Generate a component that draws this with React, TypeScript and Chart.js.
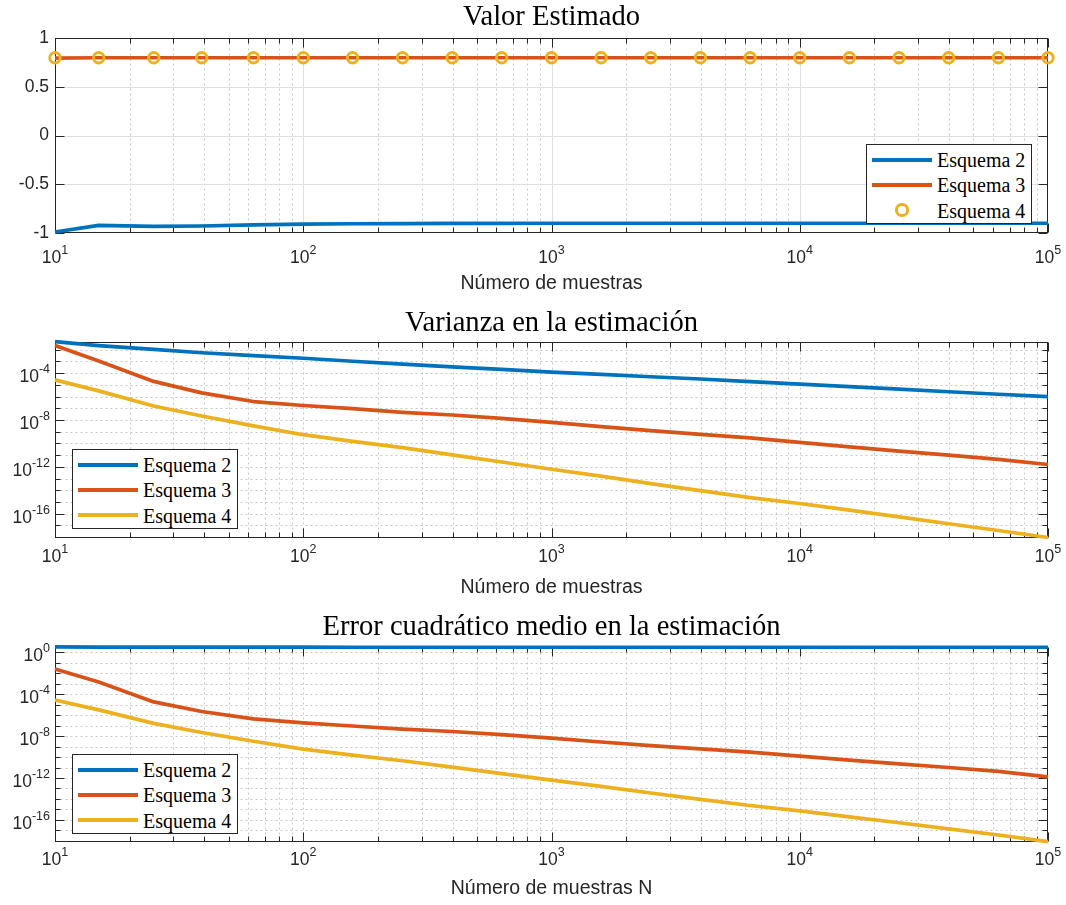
import React, { useEffect, useRef } from "react";
import { Chart, registerables } from "chart.js";

Chart.register(...registerables);

// ---------------- data ----------------
const N = [10, 15, 25, 39, 63, 100, 158, 251, 398, 630, 1000, 1584, 2511, 3981, 6309, 10000, 15848, 25118, 39810, 63095, 100000];

const seriesNames = ["Esquema 2", "Esquema 3", "Esquema 4"];
const seriesColors = ["#0072BD", "#D95319", "#EDB120"];

const valorEsquema2 = [-0.99, -0.921, -0.932, -0.928, -0.916, -0.909, -0.905, -0.903, -0.902, -0.901, -0.9, -0.9, -0.9, -0.9, -0.9, -0.9, -0.9, -0.9, -0.9, -0.9, -0.9];
const valorEsquema3 = [0.796, 0.8, 0.8, 0.8, 0.8, 0.8, 0.8, 0.8, 0.8, 0.8, 0.8, 0.8, 0.8, 0.8, 0.8, 0.8, 0.8, 0.8, 0.8, 0.8, 0.8];
const valorEsquema4 = [0.8, 0.8, 0.8, 0.8, 0.8, 0.8, 0.8, 0.8, 0.8, 0.8, 0.8, 0.8, 0.8, 0.8, 0.8, 0.8, 0.8, 0.8, 0.8, 0.8, 0.8];

const varianzaEsquema2 = [5.0e-2, 2.3e-2, 1.1e-2, 5.6e-3, 3.2e-3, 1.9e-3, 1.05e-3, 6.0e-4, 3.5e-4, 2.1e-4, 1.26e-4, 7.9e-5, 5.0e-5, 3.2e-5, 1.9e-5, 1.15e-5, 7.1e-6, 4.4e-6, 2.6e-6, 1.6e-6, 1.0e-6];
const varianzaEsquema3 = [2.3e-2, 1.1e-3, 2.0e-5, 2.1e-6, 3.8e-7, 1.74e-7, 9.5e-8, 4.6e-8, 2.7e-8, 1.38e-8, 6.3e-9, 2.7e-9, 1.23e-9, 5.9e-10, 2.95e-10, 1.23e-10, 5.1e-11, 2.2e-11, 1.0e-11, 4.3e-12, 1.6e-12];
const varianzaEsquema4 = [2.7e-5, 3.1e-6, 1.6e-7, 2.2e-8, 3.2e-9, 5.6e-10, 1.5e-10, 4.4e-11, 1.07e-11, 2.6e-12, 6.3e-13, 1.6e-13, 3.7e-14, 9.3e-15, 2.4e-15, 7.4e-16, 2.0e-16, 5.4e-17, 1.4e-17, 3.7e-18, 9.3e-19];

const mseEsquema2 = [3.2, 2.96, 3.0, 2.99, 2.95, 2.92, 2.91, 2.9, 2.9, 2.89, 2.89, 2.89, 2.89, 2.89, 2.89, 2.89, 2.89, 2.89, 2.89, 2.89, 2.89];
const mseEsquema3 = [2.5e-2, 1.4e-3, 1.8e-5, 2.2e-6, 4.3e-7, 1.8e-7, 9.0e-8, 4.6e-8, 2.7e-8, 1.38e-8, 6.3e-9, 2.7e-9, 1.23e-9, 5.9e-10, 2.95e-10, 1.23e-10, 5.1e-11, 2.2e-11, 1.0e-11, 4.3e-12, 1.3e-12];
const mseEsquema4 = [2.7e-5, 3.1e-6, 1.6e-7, 2.2e-8, 3.2e-9, 5.6e-10, 1.5e-10, 4.4e-11, 1.07e-11, 2.6e-12, 6.3e-13, 1.6e-13, 3.7e-14, 9.3e-15, 2.4e-15, 7.4e-16, 2.0e-16, 5.4e-17, 1.4e-17, 3.7e-18, 8.5e-19];

const xTicks = [10, 100, 1000, 10000, 100000];
const valorTicks = [-1, -0.5, 0, 0.5, 1];
const varianzaTicks = [1e-16, 1e-12, 1e-8, 1e-4];
const mseTicks = [1e-16, 1e-12, 1e-8, 1e-4, 1];

const titles = ["Valor Estimado", "Varianza en la estimación", "Error cuadrático medio en la estimación"];
const xTitles = ["Número de muestras", "Número de muestras", "Número de muestras N"];

// ---------------- helpers ----------------
const SANS = '"Liberation Sans", Arial, Helvetica, sans-serif';
const SERIF = '"Liberation Serif", "Times New Roman", serif';
const AX = "#262626";
const BASE_FONT = "17.5px " + SANS;
const EXP_FONT = "12.5px " + SANS;

const xMinor: number[] = [];
for (let e = 1; e < 5; e++) for (let m = 2; m < 10; m++) xMinor.push(m * Math.pow(10, e));

const matlabAxes = {
  id: "matlabAxes",
  beforeDatasetsDraw(chart: any, _args: any, opts: any) {
    const { ctx, chartArea: a } = chart;
    const xs = chart.scales.x;
    const ys = chart.scales.y;
    const L = Math.round(a.left) + 0.5;
    const R = Math.round(a.right) - 0.5;
    const T = Math.round(a.top) + 0.5;
    const B = Math.round(a.bottom) - 0.5;
    ctx.save();
    ctx.lineWidth = 1;
    const setStyle = (dotted: boolean) => {
      if (dotted) {
        ctx.strokeStyle = "#c8c8c8";
        ctx.setLineDash([2, 3]);
      } else {
        ctx.strokeStyle = "#dfdfdf";
        ctx.setLineDash([]);
      }
    };
    const vline = (v: number, dotted: boolean) => {
      const p = Math.round(xs.getPixelForValue(v)) + 0.5;
      if (p <= L + 0.6 || p >= R - 0.6) return;
      setStyle(dotted);
      ctx.beginPath();
      ctx.moveTo(p, T);
      ctx.lineTo(p, B);
      ctx.stroke();
    };
    const hline = (v: number, dotted: boolean) => {
      const p = Math.round(ys.getPixelForValue(v)) + 0.5;
      if (p <= T + 0.6 || p >= B - 0.6) return;
      setStyle(dotted);
      ctx.beginPath();
      ctx.moveTo(L, p);
      ctx.lineTo(R, p);
      ctx.stroke();
    };
    const logGrid = !!opts.logGrid;
    xMinor.forEach((v) => vline(v, true));
    xTicks.forEach((v) => vline(v, logGrid));
    const yMinor: number[] = opts.yMinor || [];
    const yMajor: number[] = opts.yMajor || [];
    yMinor.forEach((v) => hline(v, true));
    if (!logGrid) yMajor.forEach((v) => hline(v, false));

    // box + inward ticks
    ctx.setLineDash([]);
    ctx.strokeStyle = AX;
    ctx.lineWidth = 1;
    ctx.strokeRect(L, T, R - L, B - T);
    ctx.beginPath();
    const xt = (v: number, len: number) => {
      const p = Math.round(xs.getPixelForValue(v)) + 0.5;
      ctx.moveTo(p, B);
      ctx.lineTo(p, B - len);
      ctx.moveTo(p, T);
      ctx.lineTo(p, T + len);
    };
    const yt = (v: number, len: number) => {
      const p = Math.round(ys.getPixelForValue(v)) + 0.5;
      ctx.moveTo(L, p);
      ctx.lineTo(L + len, p);
      ctx.moveTo(R, p);
      ctx.lineTo(R - len, p);
    };
    xMinor.forEach((v) => xt(v, 5));
    xTicks.forEach((v) => xt(v, 9));
    yMinor.forEach((v) => yt(v, 5));
    yMajor.forEach((v) => yt(v, 9));
    ctx.stroke();
    ctx.restore();
  },
  afterDraw(chart: any, _args: any, opts: any) {
    // power-of-ten tick labels with raised exponents (MATLAB style)
    const { ctx, chartArea: a } = chart;
    const xs = chart.scales.x;
    const ys = chart.scales.y;
    ctx.save();
    ctx.fillStyle = AX;
    ctx.textAlign = "left";
    ctx.textBaseline = "alphabetic";
    const drawPow = (value: number, x: number, y: number, align: "center" | "right") => {
      const b = "10";
      const e = String(Math.round(Math.log10(value)));
      ctx.font = BASE_FONT;
      const wb = ctx.measureText(b).width;
      ctx.font = EXP_FONT;
      const we = ctx.measureText(e).width;
      const x0 = align === "center" ? x - (wb + we) / 2 : x - (wb + we);
      ctx.font = BASE_FONT;
      ctx.fillText(b, x0, y);
      ctx.font = EXP_FONT;
      ctx.fillText(e, x0 + wb, y - 9);
    };
    xTicks.forEach((v) => drawPow(v, xs.getPixelForValue(v), a.bottom + opts.xLabelBaseline, "center"));
    if (opts.logGrid) {
      (opts.yMajor || []).forEach((v: number) => drawPow(v, a.left - 5, ys.getPixelForValue(v) + 9, "right"));
    }
    ctx.restore();
  },
};

type PlotSpec = {
  title: string;
  xTitle: string;
  series: number[][];
  markersLast: boolean;
  yLog: boolean;
  yTicks: number[];
  height: number;
  titlePad: { top: number; bottom: number };
  xAxisHeight: number;
  xTitlePadBottom: number;
  xLabelBaseline: number;
};

function buildConfig(p: PlotSpec): any {
  const datasets: any[] = p.series.map((s, i) => ({
    label: seriesNames[i],
    data: N.map((n, j) => ({ x: n, y: s[j] })),
    borderColor: seriesColors[i],
    backgroundColor: seriesColors[i],
    borderWidth: 3.7,
    pointRadius: 0,
    pointHoverRadius: 0,
    tension: 0,
    clip: false,
    order: 2 - i,
    borderJoinStyle: "round",
  }));
  if (p.markersLast) {
    datasets[2] = {
      ...datasets[2],
      showLine: false,
      pointRadius: 5.2,
      pointBorderWidth: 3,
      pointBorderColor: seriesColors[2],
      pointBackgroundColor: "rgba(0,0,0,0)",
      pointStyle: "circle",
    };
  }
  const all = p.series.flat();
  const yMin = p.yLog ? Math.min(...all) : -1;
  const yMax = p.yLog ? Math.max(...all) : 1;
  const yMinor: number[] = [];
  if (p.yLog) {
    for (let e = Math.ceil(Math.log10(yMin)); e <= Math.floor(Math.log10(yMax)); e++) yMinor.push(Math.pow(10, e));
  }
  return {
    type: "line",
    data: { datasets },
    plugins: [matlabAxes],
    options: {
      responsive: false,
      animation: false,
      devicePixelRatio: 1,
      events: [],
      layout: { padding: { left: 0, right: 18, top: 0, bottom: 0 } },
      plugins: {
        legend: { display: false },
        tooltip: { enabled: false },
        title: {
          display: true,
          fullSize: false,
          text: p.title,
          color: "#000",
          font: { family: SERIF, size: 28.6, weight: "normal", lineHeight: 1.175 },
          padding: p.titlePad,
        },
        matlabAxes: { logGrid: p.yLog, yMinor, yMajor: p.yTicks, xLabelBaseline: p.xLabelBaseline },
      },
      scales: {
        x: {
          type: "logarithmic",
          min: 10,
          max: 100000,
          afterBuildTicks: (s: any) => {
            s.ticks = xTicks.map((v) => ({ value: v }));
          },
          afterFit: (s: any) => {
            s.height = p.xAxisHeight;
            s.paddingLeft = 0;
            s.paddingRight = 0;
          },
          ticks: { display: false, autoSkip: false, maxRotation: 0, minRotation: 0 },
          grid: { display: false, drawTicks: false },
          border: { display: false },
          title: {
            display: true,
            text: p.xTitle,
            color: AX,
            font: { family: SANS, size: 19.5, lineHeight: 1.2 },
            padding: { top: 0, bottom: p.xTitlePadBottom },
          },
        },
        y: {
          type: p.yLog ? "logarithmic" : "linear",
          min: yMin,
          max: yMax,
          afterBuildTicks: (s: any) => {
            s.ticks = p.yTicks.map((v) => ({ value: v }));
          },
          afterFit: (s: any) => {
            s.width = 55;
            s.paddingTop = 0;
            s.paddingBottom = 0;
          },
          ticks: {
            display: !p.yLog,
            callback: (v: any) => String(v),
            autoSkip: false,
            padding: 6,
            color: AX,
            font: { family: SANS, size: 17.5, lineHeight: 1.2 },
          },
          grid: { display: false, drawTicks: false },
          border: { display: false },
        },
      },
    },
  };
}

const plotSpecs: PlotSpec[] = [
  {
    title: titles[0],
    xTitle: xTitles[0],
    series: [valorEsquema2, valorEsquema3, valorEsquema4],
    markersLast: true,
    yLog: false,
    yTicks: valorTicks,
    height: 300,
    titlePad: { top: 0.5, bottom: 4.2 },
    xAxisHeight: 67,
    xTitlePadBottom: 4.5,
    xLabelBaseline: 29.5,
  },
  {
    title: titles[1],
    xTitle: xTitles[1],
    series: [varianzaEsquema2, varianzaEsquema3, varianzaEsquema4],
    markersLast: false,
    yLog: true,
    yTicks: varianzaTicks,
    height: 300,
    titlePad: { top: 6.2, bottom: 1.8 },
    xAxisHeight: 62.5,
    xTitlePadBottom: 0.5,
    xLabelBaseline: 24.5,
  },
  {
    title: titles[2],
    xTitle: xTitles[2],
    series: [mseEsquema2, mseEsquema3, mseEsquema4],
    markersLast: false,
    yLog: true,
    yTicks: mseTicks,
    height: 305,
    titlePad: { top: 10.2, bottom: 3.0 },
    xAxisHeight: 63.3,
    xTitlePadBottom: 4.8,
    xLabelBaseline: 23.5,
  },
];

const plotTops = [0, 300, 600];

function PlotCanvas({ spec, top }: { spec: PlotSpec; top: number }) {
  const ref = useRef<HTMLCanvasElement>(null);
  useEffect(() => {
    const chart = new Chart(ref.current as HTMLCanvasElement, buildConfig(spec));
    return () => chart.destroy();
  }, [spec]);
  return (
    <canvas
      ref={ref}
      width={1066}
      height={spec.height}
      style={{ position: "absolute", left: 0, top, width: 1066, height: spec.height, display: "block" }}
    />
  );
}

type LegendBox = { left: number; top: number; width: number; height: number; markerLast: boolean };
const legendBoxes: LegendBox[] = [
  { left: 866, top: 144, width: 166, height: 80, markerLast: true },
  { left: 72, top: 449, width: 166, height: 80, markerLast: false },
  { left: 72, top: 754, width: 166, height: 80, markerLast: false },
];

function Legend({ box }: { box: LegendBox }) {
  return (
    <div
      style={{
        position: "absolute",
        left: box.left,
        top: box.top,
        width: box.width,
        height: box.height,
        boxSizing: "border-box",
        border: "1px solid " + AX,
        background: "#fff",
      }}
    >
      {seriesNames.map((name, i) => {
        const cy = 14.5 + i * 25.3;
        const isMarker = box.markerLast && i === 2;
        return (
          <div key={name} style={{ position: "absolute", left: 0, top: cy - 12.5, height: 25, width: "100%" }}>
            {isMarker ? (
              <div
                style={{
                  position: "absolute",
                  left: 5 + 30 - 6.6,
                  top: 12.5 - 6.6,
                  width: 13.2,
                  height: 13.2,
                  boxSizing: "border-box",
                  borderRadius: "50%",
                  border: "3px solid " + seriesColors[2],
                }}
              />
            ) : (
              <div
                style={{
                  position: "absolute",
                  left: 5,
                  top: 12.5 - 2,
                  width: 60,
                  height: 4,
                  background: seriesColors[i],
                }}
              />
            )}
            <span
              style={{
                position: "absolute",
                left: 70,
                top: 0,
                height: 25,
                lineHeight: "25px",
                fontFamily: SERIF,
                fontSize: 20,
                color: "#000",
                whiteSpace: "nowrap",
                transform: "translateY(1px)",
              }}
            >
              {name}
            </span>
          </div>
        );
      })}
    </div>
  );
}

export default function App() {
  return (
    <div style={{ position: "absolute", left: 0, top: 0, width: 1066, height: 905, background: "#fff", overflow: "hidden" }}>
      {plotSpecs.map((s, i) => (
        <PlotCanvas key={i} spec={s} top={plotTops[i]} />
      ))}
      {legendBoxes.map((b, i) => (
        <Legend key={i} box={b} />
      ))}
    </div>
  );
}
